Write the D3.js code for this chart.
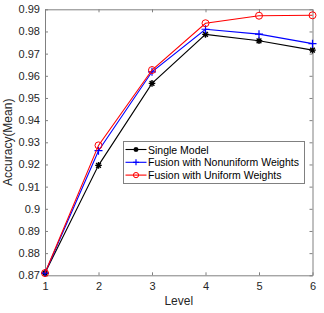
<!DOCTYPE html>
<html><head><meta charset="utf-8">
<script src="https://cdn.jsdelivr.net/npm/d3@7"></script>
<style>body{margin:0;background:#fff}svg{display:block}text{font-family:"Liberation Sans",Arial,sans-serif}</style>
</head><body><svg id="c" width="324" height="313"></svg>
<script>
const levels = [1, 2, 3, 4, 5, 6];
const singleModel = [0.871, 0.9196, 0.9566, 0.9787, 0.9758, 0.9716];
const fusionNonuniform = [0.871, 0.9262, 0.9618, 0.9810, 0.9788, 0.9745];
const fusionUniform = [0.871, 0.9286, 0.9626, 0.9837, 0.9871, 0.9873];
const yTicks = [0.87, 0.88, 0.89, 0.9, 0.91, 0.92, 0.93, 0.94, 0.95, 0.96, 0.97, 0.98, 0.99];
const yTickLabels = ["0.87","0.88","0.89","0.9","0.91","0.92","0.93","0.94","0.95","0.96","0.97","0.98","0.99"];
const seriesNames = ["Single Model", "Fusion with Nonuniform Weights", "Fusion with Uniform Weights"];

const svg = d3.select("#c");
const L = 45, R = 312.5, T = 9.3, B = 275.3;
const x = d3.scaleLinear().domain([1, 6]).range([L, R]);
const y = d3.scaleLinear().domain([0.87, 0.99]).range([B, T]);
const axisColor = "#808080", textColor = "#262626";

svg.append("rect").attr("x", L).attr("y", T).attr("width", R - L).attr("height", B - T).attr("fill", "#fff");

function styleAxis(g, hideText) {
  g.select(".domain").attr("stroke", axisColor);
  g.selectAll(".tick line").attr("stroke", axisColor);
  g.selectAll(".tick text").attr("fill", textColor).attr("font-size", 11);
  if (hideText) g.selectAll(".tick text").remove();
}
const fmtY = (d, i) => yTickLabels[i];
svg.append("g").attr("transform", `translate(0,${B})`)
  .call(d3.axisBottom(x).tickValues(levels).tickSize(-3).tickSizeOuter(0).tickPadding(7).tickFormat(d3.format("d")))
  .call(g => styleAxis(g));
svg.append("g").attr("transform", `translate(0,${T})`)
  .call(d3.axisTop(x).tickValues(levels).tickSize(-3).tickSizeOuter(0))
  .call(g => styleAxis(g, true));
svg.append("g").attr("transform", `translate(${L},0)`)
  .call(d3.axisLeft(y).tickValues(yTicks).tickSize(-3).tickSizeOuter(0).tickPadding(5).tickFormat(fmtY))
  .call(g => styleAxis(g));
svg.append("g").attr("transform", `translate(${R},0)`)
  .call(d3.axisRight(y).tickValues(yTicks).tickSize(-3).tickSizeOuter(0))
  .call(g => styleAxis(g, true));

svg.append("text").attr("x", (L + R) / 2).attr("y", 305).attr("text-anchor", "middle")
  .attr("font-size", 12).attr("fill", textColor).text("Level");
svg.append("text").attr("transform", `translate(12,${(T + B) / 2}) rotate(-90)`).attr("text-anchor", "middle")
  .attr("font-size", 12).attr("fill", textColor).text("Accuracy(Mean)");

const series = [
  { name: seriesNames[0], vals: singleModel, color: "#000000", marker: "star" },
  { name: seriesNames[1], vals: fusionNonuniform, color: "#0000ff", marker: "plus" },
  { name: seriesNames[2], vals: fusionUniform, color: "#ff0000", marker: "circle" }
];
const line = d3.line().x((d, i) => x(levels[i])).y(d => y(d));

function drawMarker(g, type, cx, cy, color, k) {
  k = k || 1;
  if (type === "circle") {
    g.append("circle").attr("cx", cx).attr("cy", cy).attr("r", 3.5 * k).attr("fill", "none").attr("stroke", color).attr("stroke-width", 1);
  } else if (type === "plus") {
    const r = 4 * k;
    g.append("path").attr("d", `M${cx-r},${cy}H${cx+r}M${cx},${cy-r}V${cy+r}`).attr("stroke", color).attr("stroke-width", 1.2).attr("fill", "none");
  } else {
    const r = 3.3 * k, d = r * 0.72;
    g.append("path").attr("d", `M${cx-r},${cy}H${cx+r}M${cx},${cy-r}V${cy+r}M${cx-d},${cy-d}L${cx+d},${cy+d}M${cx-d},${cy+d}L${cx+d},${cy-d}`)
      .attr("stroke", color).attr("stroke-width", 1.4).attr("fill", "none");
  }
}

const plot = svg.append("g");
series.forEach(s => {
  plot.append("path").datum(s.vals).attr("d", line).attr("fill", "none").attr("stroke", s.color).attr("stroke-width", 1.1);
  s.vals.forEach((v, i) => drawMarker(plot, s.marker, x(levels[i]), y(v), s.color));
});

// legend
const lg = svg.append("g");
lg.append("rect").attr("x", 123.5).attr("y", 141.5).attr("width", 181).attr("height", 42)
  .attr("fill", "#fff").attr("stroke", "#808080").attr("stroke-width", 1);
series.forEach((s, i) => {
  const yy = 149.5 + i * 12.8;
  lg.append("line").attr("x1", 125.5).attr("x2", 146.5).attr("y1", yy).attr("y2", yy).attr("stroke", s.color).attr("stroke-width", 1.1);
  drawMarker(lg, s.marker, 136, yy, s.color, 0.75);
  lg.append("text").attr("x", 148).attr("y", yy + 4).attr("font-size", 10.5).attr("fill", "#000").text(s.name);
});
</script></body></html>
